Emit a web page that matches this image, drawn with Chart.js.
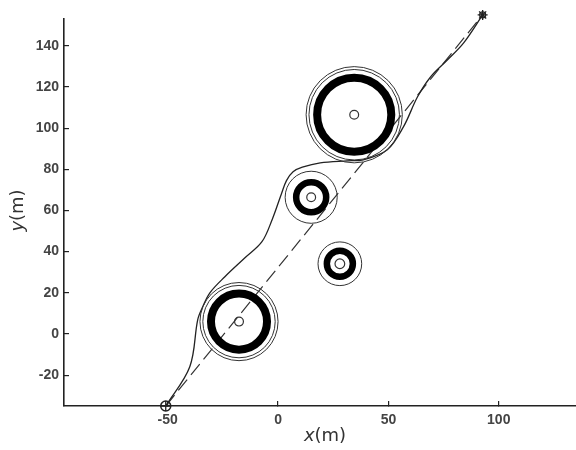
<!DOCTYPE html>
<html>
<head>
<meta charset="utf-8">
<script src="https://cdn.jsdelivr.net/npm/chart.js@4.4.0/dist/chart.umd.min.js"></script>
<style>
  html, body { margin: 0; padding: 0; background: #fff; }
  #wrap { width: 576px; height: 450px; position: relative; }
</style>
</head>
<body>
<div id="wrap"><canvas id="plot"></canvas></div>
<script>
// planned path (solid) between start and goal, straight reference line (dashed)
const pathX = [-50.9, -40, -36.4, -34.1, -30.9, -24.1, -15, -7.3, -2.7, 1.5, 3.8, 6.8, 11, 19.1, 31.4, 38.6, 49.5, 56.8, 63.2, 69.1, 76.8, 84.1, 92.7];
const pathY = [-35, -15.9, 7, 13.3, 20, 27.8, 37, 44.8, 55.5, 68, 74.5, 78.8, 81, 83.1, 84.1, 84.6, 89.5, 100.6, 115.2, 124.9, 133.2, 141.4, 155];
const lineX = [-50.9, 92.7];
const lineY = [-35, 155];
const startPt = { x: -50.9, y: -35 };
const goalPt = { x: 92.7, y: 155 };

// obstacles: centre, body ring radius, safety circles, core (all in metres)
const obsX = [-17.7, 34.5, 15, 28];
const obsY = [6, 106.5, 66.4, 34.1];
const bodyR = [12.7, 16.8, 6.8, 5.9];
const safeR = [16.4, 20.5, 11.8, 9.9];
const safeR2 = [17.7, 21.8, null, null];
const coreR = [2, 2, 2, 2.2];

const xTicks = [-50, 0, 50, 100];
const yTicks = [-20, 0, 20, 40, 60, 80, 100, 120, 140];

const FONT = 'Liberation Sans';
const INK = '#222';
const bodyWidth = [8, 8, 6.5, 6.5]; // ring stroke per obstacle, px

function pts(xs, ys) { return xs.map((x, i) => ({ x, y: ys[i] })); }

// radius given in metres -> pixels via the x scale
function metresToPx(ctx) {
  const s = ctx.chart.scales.x;
  if (!ctx.raw || !s) return 0;
  return Math.abs(s.getPixelForValue(ctx.raw.r) - s.getPixelForValue(0));
}

function ringSet(radii, width, color) {
  const data = [];
  obsX.forEach((x, i) => { if (radii[i] != null) data.push({ x, y: obsY[i], r: radii[i], k: i }); });
  return {
    type: 'scatter', data, showLine: false, clip: false,
    pointStyle: 'circle',
    pointRadius: metresToPx,
    pointBorderWidth: width,
    pointBorderColor: color,
    pointBackgroundColor: 'rgba(0,0,0,0)'
  };
}

function markerSet(p, style, r, w) {
  return {
    type: 'scatter', data: [p], showLine: false, clip: false,
    pointStyle: style, pointRadius: r, pointBorderWidth: w,
    pointBorderColor: INK, pointBackgroundColor: 'rgba(0,0,0,0)'
  };
}

// axis titles with italic variable name
const axisTitles = {
  id: 'axisTitles',
  afterDraw(chart) {
    const { ctx, chartArea } = chart;
    const draw = (v, cx, cy, rot) => {
      ctx.save();
      ctx.translate(cx, cy);
      ctx.rotate(rot);
      ctx.fillStyle = '#333';
      ctx.textBaseline = 'alphabetic';
      ctx.font = 'italic 18px DejaVu Sans';
      const w1 = ctx.measureText(v).width;
      ctx.font = '18px DejaVu Sans';
      const w2 = ctx.measureText('(m)').width;
      const x0 = -(w1 + w2) / 2;
      ctx.font = 'italic 18px DejaVu Sans';
      ctx.fillText(v, x0, 0);
      ctx.font = '18px DejaVu Sans';
      ctx.fillText('(m)', x0 + w1, 0);
      ctx.restore();
    };
    draw('x', (chartArea.left + chartArea.right) / 2 + 5, chartArea.bottom + 35, 0);
    draw('y', 23, (chartArea.top + chartArea.bottom) / 2 - 2, -Math.PI / 2);
  }
};

const tickFont = { family: FONT, size: 14, weight: 'bold' };

new Chart(document.getElementById('plot'), {
  type: 'scatter',
  data: {
    datasets: [
      ringSet(safeR, 1, '#333'),
      ringSet(safeR2, 1, '#333'),
      Object.assign(ringSet(bodyR, 8, '#000'), { pointBorderWidth: (ctx) => ctx.raw ? bodyWidth[ctx.raw.k] : 0 }),
      ringSet(coreR, 1.2, '#333'),
      {
        data: pts(pathX, pathY), showLine: true, clip: false,
        borderColor: INK, borderWidth: 1.3, tension: 0.35, pointRadius: 0
      },
      {
        data: pts(lineX, lineY), showLine: true, clip: false,
        borderColor: '#333', borderWidth: 1.2, borderDash: [14, 6], pointRadius: 0
      },
      markerSet(startPt, 'circle', 5, 1.5),
      markerSet(startPt, 'cross', 5, 1.3),
      markerSet(goalPt, 'star', 5, 1.3),
      markerSet(goalPt, 'circle', 3, 1.2)
    ]
  },
  options: {
    responsive: true,
    maintainAspectRatio: false,
    animation: false,
    events: [],
    layout: { autoPadding: false, padding: { top: 19, right: 0, left: 0, bottom: 0 } },
    plugins: { legend: { display: false }, tooltip: { enabled: false } },
    scales: {
      x: {
        type: 'linear', min: -97, max: 135,
        afterBuildTicks: (s) => { s.ticks = xTicks.map(v => ({ value: v })); },
        afterFit: (s) => { s.height = 44; },
        grid: { drawOnChartArea: false, tickLength: -5, color: INK, lineWidth: 1.2 },
        border: { color: INK, width: 1.6 },
        ticks: { padding: 11, color: '#444', font: tickFont }
      },
      y: {
        type: 'linear', min: -35, max: 153,
        afterBuildTicks: (s) => { s.ticks = yTicks.map(v => ({ value: v })); },
        afterFit: (s) => { s.width = 64; },
        grid: { drawOnChartArea: false, tickLength: -5, color: INK, lineWidth: 1.2 },
        border: { color: INK, width: 1.6 },
        ticks: { padding: 10, color: '#444', font: tickFont }
      }
    }
  },
  plugins: [axisTitles]
});
</script>
</body>
</html>
